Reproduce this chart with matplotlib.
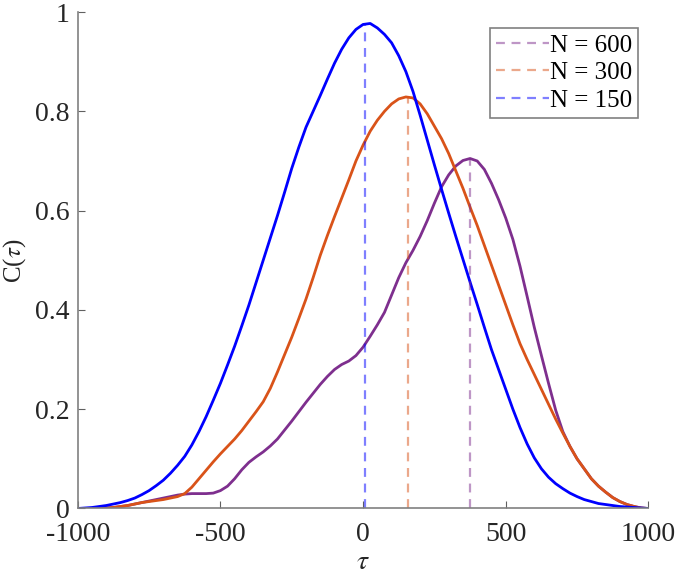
import numpy as np
import matplotlib.pyplot as plt

plt.rcParams['font.family'] = 'Liberation Serif'
plt.rcParams['mathtext.fontset'] = 'stix'
plt.rcParams['axes.unicode_minus'] = False

tau = np.arange(-1000, 1001, 25)

# N = 150
c_150 = [0.000, 0.001, 0.002, 0.004, 0.006, 0.009, 0.012, 0.016, 0.021, 0.028,
         0.036, 0.046, 0.057, 0.071, 0.087, 0.105, 0.128, 0.155, 0.185, 0.218,
         0.252, 0.289, 0.327, 0.368, 0.410, 0.455, 0.500, 0.545, 0.590, 0.637,
         0.685, 0.728, 0.768, 0.800, 0.832, 0.865, 0.897, 0.925, 0.948, 0.965,
         0.975, 0.977, 0.968, 0.955, 0.938, 0.912, 0.880, 0.840, 0.792, 0.742,
         0.692, 0.643, 0.595, 0.548, 0.502, 0.456, 0.411, 0.365, 0.320, 0.280,
         0.240, 0.200, 0.163, 0.130, 0.102, 0.080, 0.063, 0.050, 0.040, 0.031,
         0.024, 0.018, 0.014, 0.010, 0.008, 0.006, 0.004, 0.003, 0.002, 0.001,
         0.000]
# N = 300
c_300 = [0.000, 0.000, 0.000, 0.000, 0.001, 0.002, 0.004, 0.006, 0.009, 0.012,
         0.014, 0.016, 0.018, 0.021, 0.024, 0.030, 0.043, 0.060, 0.077, 0.094,
         0.110, 0.125, 0.140, 0.157, 0.176, 0.195, 0.215, 0.242, 0.275, 0.310,
         0.345, 0.383, 0.422, 0.465, 0.510, 0.550, 0.588, 0.625, 0.662, 0.700,
         0.732, 0.760, 0.782, 0.800, 0.815, 0.825, 0.829, 0.827, 0.815, 0.795,
         0.770, 0.745, 0.715, 0.680, 0.645, 0.607, 0.570, 0.530, 0.490, 0.450,
         0.410, 0.370, 0.332, 0.300, 0.270, 0.240, 0.210, 0.180, 0.152, 0.125,
         0.100, 0.080, 0.060, 0.045, 0.033, 0.022, 0.014, 0.008, 0.004, 0.001,
         0.000]
# N = 600
c_600 = [0.000, 0.000, 0.000, 0.000, 0.001, 0.002, 0.004, 0.006, 0.009, 0.012,
         0.015, 0.018, 0.021, 0.024, 0.027, 0.029, 0.030, 0.030, 0.030, 0.031,
         0.036, 0.045, 0.060, 0.078, 0.093, 0.104, 0.114, 0.126, 0.140, 0.158,
         0.176, 0.195, 0.214, 0.232, 0.250, 0.266, 0.280, 0.290, 0.297, 0.308,
         0.325, 0.347, 0.370, 0.395, 0.430, 0.465, 0.495, 0.520, 0.548, 0.580,
         0.615, 0.648, 0.672, 0.690, 0.701, 0.705, 0.700, 0.683, 0.655, 0.622,
         0.585, 0.542, 0.488, 0.427, 0.365, 0.308, 0.252, 0.198, 0.155, 0.125,
         0.100, 0.080, 0.060, 0.045, 0.033, 0.022, 0.014, 0.008, 0.004, 0.001,
         0.000]

labels = ['N = 600', 'N = 300', 'N = 150']
peak_tau = [373, 158, 5]
peak_val = [0.705, 0.829, 0.977]
colors = ['#7E2F8E', '#D95319', '#0000FF']

fig = plt.figure(figsize=(6.77, 5.82), dpi=100)
ax = fig.add_axes([0.1148, 0.1263, 0.843, 0.853])

for s, col in zip([c_600, c_300, c_150], colors):
    ax.plot(tau, s, color=col, linewidth=2.0, solid_joinstyle='round')

for t, v, col, lab in zip(peak_tau, peak_val, colors, labels):
    ax.plot([t, t], [0, v], color=col, linestyle=(0, (4, 3)), linewidth=1.6,
            alpha=0.5, label=lab)

ax.set_xlim(-1000, 1000)
ax.set_ylim(0, 1)
ax.set_xticks([-1000, -500, 0, 500, 1000])
ax.set_yticks([0, 0.2, 0.4, 0.6, 0.8, 1])
ax.set_yticklabels(['0', '0.2', '0.4', '0.6', '0.8', '1'])
ax.spines['top'].set_visible(False)
ax.spines['right'].set_visible(False)
for sp in ['left', 'bottom']:
    ax.spines[sp].set_color('#808080')
    ax.spines[sp].set_linewidth(1.2)
ax.tick_params(direction='in', length=5, color='#606060', labelsize=20,
               labelcolor='#262626')
ax.tick_params(axis='x', pad=10)
ax.tick_params(axis='y', pad=6)
ax.set_xlabel(r'$\tau$', fontsize=20, color='#262626', labelpad=2)
ax.set_ylabel(r'C($\tau$)', fontsize=18, color='#262626', labelpad=5)

leg = ax.legend(loc='upper right', bbox_to_anchor=(0.982, 0.968), fontsize=18,
                handlelength=2.1, handletextpad=0.05, borderpad=0.25,
                labelspacing=0.2, borderaxespad=0, fancybox=False)
leg.get_frame().set_edgecolor('#606060')
leg.get_frame().set_linewidth(1.2)

fig.savefig('out.png', dpi=100)
